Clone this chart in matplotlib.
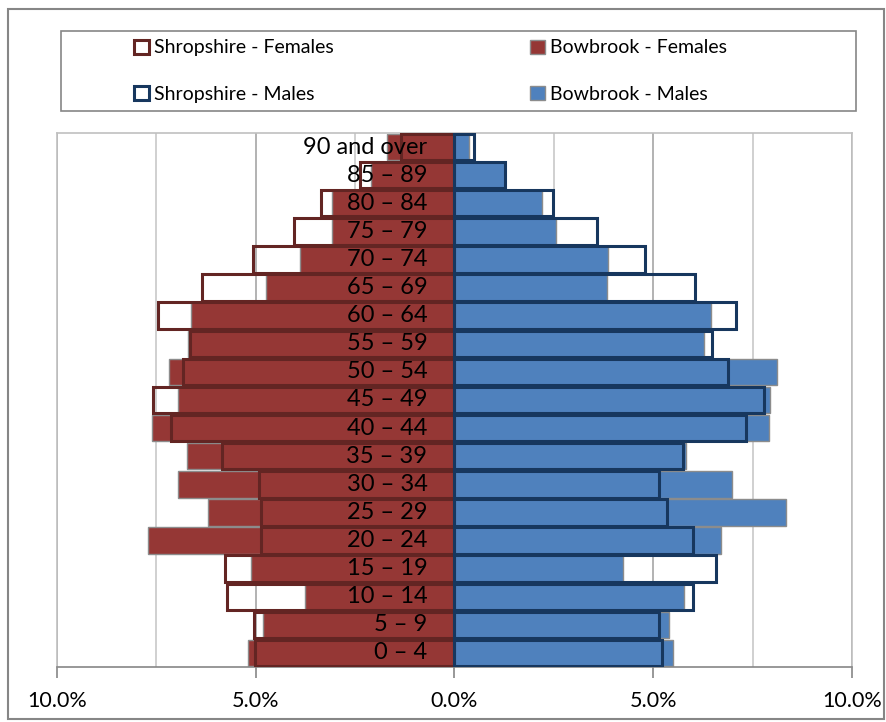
import matplotlib.pyplot as plt
from matplotlib.patches import Rectangle, Patch
from matplotlib.ticker import MultipleLocator, FuncFormatter

plt.rcParams['font.family'] = ['Lato', 'DejaVu Sans']

# age groups, youngest first
ages = ["0 – 4", "5 – 9", "10 – 14", "15 – 19", "20 – 24", "25 – 29", "30 – 34",
        "35 – 39", "40 – 44", "45 – 49", "50 – 54", "55 – 59", "60 – 64",
        "65 – 69", "70 – 74", "75 – 79", "80 – 84", "85 – 89", "90 and over"]

# share of population, %
bow_f = [5.19, 4.82, 3.77, 5.11, 7.71, 6.20, 6.95, 6.74, 7.60, 6.95,
         7.18, 6.70, 6.64, 4.75, 3.89, 3.07, 3.07, 2.10, 1.70]
shr_f = [5.03, 5.05, 5.72, 5.78, 4.86, 4.88, 4.92, 5.84, 7.12, 7.58,
         6.83, 6.66, 7.45, 6.36, 5.08, 4.05, 3.35, 2.38, 1.34]
bow_m = [5.49, 5.39, 5.78, 4.25, 6.70, 8.33, 6.97, 5.82, 7.90, 7.94,
         8.11, 6.28, 6.45, 3.83, 3.85, 2.55, 2.20, 1.26, 0.36]
shr_m = [5.23, 5.15, 5.99, 6.59, 5.99, 5.34, 5.15, 5.75, 7.33, 7.79,
         6.87, 6.49, 7.08, 6.06, 4.80, 3.58, 2.49, 1.28, 0.48]

red = "#953735"
blue = "#4F81BD"
dark_red = "#632523"
dark_blue = "#17375E"
gray = "#868686"

fig = plt.figure(figsize=(8.87, 7.22), dpi=100)
ax = fig.add_axes([57/887, 1-667/722, (852-57)/887, (667-133)/722])

y = list(range(len(ages)))
neg_bow_f = [-v for v in bow_f]
neg_shr_f = [-v for v in shr_f]

h = 0.94
ax.barh(y, neg_bow_f, height=h, color=red, edgecolor="#8c8c8c", linewidth=1, zorder=2)
ax.barh(y, bow_m, height=h, color=blue, edgecolor="#8c8c8c", linewidth=1, zorder=2)
ax.barh(y, neg_shr_f, height=h, facecolor="none", edgecolor=dark_red, linewidth=2.2, zorder=3)
ax.barh(y, shr_m, height=h, facecolor="none", edgecolor=dark_blue, linewidth=2.2, zorder=3)

# age labels just left of zero
for i, a in enumerate(ages):
    ax.text(-0.68, i, a, ha="right", va="center", fontsize=17, color="black", zorder=5)

ax.set_xlim(-10, 10)
ax.set_ylim(-0.5, len(ages) - 0.5)
ax.set_yticks([])
ax.xaxis.set_major_locator(MultipleLocator(5))
ax.xaxis.set_minor_locator(MultipleLocator(2.5))
ax.xaxis.set_major_formatter(FuncFormatter(lambda v, p: "%.1f%%" % abs(v)))
ax.tick_params(axis="x", which="major", length=8, width=1.2, color=gray, labelsize=15.5, pad=9)
ax.tick_params(axis="x", which="minor", length=0)
ax.grid(axis="x", which="major", color="#a6a6a6", linewidth=1.2, zorder=0)
ax.grid(axis="x", which="minor", color="#c8c8c8", linewidth=1.2, zorder=0)
ax.set_axisbelow(True)
for s in ax.spines.values():
    s.set_color("#c0c0c0")
    s.set_linewidth(1.2)
ax.spines["bottom"].set_color(gray)

# legend frame and outer border
fig.patches.append(Rectangle((61/887, 1-111/722), (856-61)/887, 80/722,
                             transform=fig.transFigure, facecolor="white",
                             edgecolor=gray, linewidth=1.2))
fig.patches.append(Rectangle((8/887, 1-719/722), (884-8)/887, (719-9)/722,
                             transform=fig.transFigure, facecolor="none",
                             edgecolor=gray, linewidth=1.5))

h1 = [Patch(facecolor="white", edgecolor=dark_red, linewidth=2.2, label="Shropshire - Females"),
      Patch(facecolor="white", edgecolor=dark_blue, linewidth=2.2, label="Shropshire - Males")]
h2 = [Patch(facecolor=red, edgecolor="#8c8c8c", linewidth=1, label="Bowbrook - Females"),
      Patch(facecolor=blue, edgecolor="#8c8c8c", linewidth=1, label="Bowbrook - Males")]
leg_kw = dict(frameon=False, fontsize=14, handlelength=0.75, handleheight=0.75,
              handletextpad=0.3, labelspacing=1.5, borderpad=0, borderaxespad=0,
              loc="center left")
fig.legend(handles=h1, bbox_to_anchor=(134/887, 1-71/722), **leg_kw)
fig.legend(handles=h2, bbox_to_anchor=(530/887, 1-71/722), **leg_kw)

fig.savefig("out.png", dpi=100)
